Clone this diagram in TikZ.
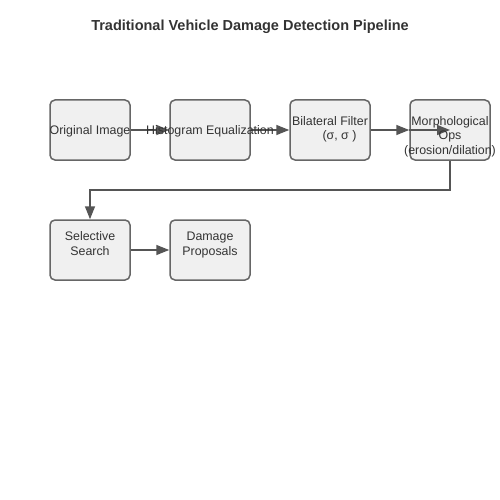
\documentclass[tikz,border=0pt]{standalone}
\usepackage{fontspec}
\setmainfont{Liberation Sans}
\usetikzlibrary{arrows.meta}
\definecolor{boxfill}{HTML}{F0F0F0}
\definecolor{boxdraw}{HTML}{666666}
\definecolor{linecol}{HTML}{555555}
\definecolor{txtcol}{HTML}{333333}
\tikzset{
  box/.style={draw=boxdraw, fill=boxfill, line width=1.5pt, rounded corners=5pt,
    minimum width=80pt, minimum height=60pt, inner sep=0pt},
  txt/.style={text=txtcol, font=\fontsize{12.4pt}{14.5pt}\selectfont, align=center, inner sep=0pt},
  conn/.style={draw=linecol, line width=1.5pt, -{Triangle[length=13pt,width=10pt]}},
}
\begin{document}
\begin{tikzpicture}[x=1pt,y=-1pt]
\useasboundingbox (0,0) rectangle (500,500);
\node[text=txtcol, font=\bfseries\fontsize{14.5pt}{16pt}\selectfont, anchor=base, inner sep=0pt] (title) at (250,30.7) {Traditional Vehicle Damage Detection Pipeline};
% boxes
\node[box] (orig) at (90,130) {};
\node[box] (hist) at (210,130) {};
\node[box] (bil) at (330,130) {};
\node[box] (morph) at (450,130) {};
\node[box] (sel) at (90,250) {};
\node[box] (dam) at (210,250) {};
\coordinate (morphc) at (450,130);
\coordinate (bend1) at (450,190);
\coordinate (bend2) at (90,190);
% connectors
\draw[conn] (orig.east) -- (hist.west);
\draw[conn] (hist.east) -- (bil.west);
\draw[conn] (bil.east) -- (morph.west);
\draw[conn] (morph.west) -- (morphc);
\draw[conn] (morph.south) -- (bend1) -- (bend2) -- (sel.north);
\draw[conn] (sel.east) -- (dam.west);
% texts
\node[txt, anchor=base] (origt) at (90,134.5) {Original Image};
\node[txt, anchor=base] (histt) at (210,134.5) {Histogram Equalization};
\node[txt, anchor=north] (bilt) at (330,116.2) {Bilateral Filter\\\hspace*{19pt}(σ, σ )};
\node[txt, anchor=north] (morpht) at (450,116.2) {Morphological\\Ops\\(erosion/dilation)};
\node[txt, anchor=north] (selt) at (90,231.8) {Selective\\Search};
\node[txt, anchor=north] (damt) at (210,231.8) {Damage\\Proposals};
\end{tikzpicture}
\end{document}
